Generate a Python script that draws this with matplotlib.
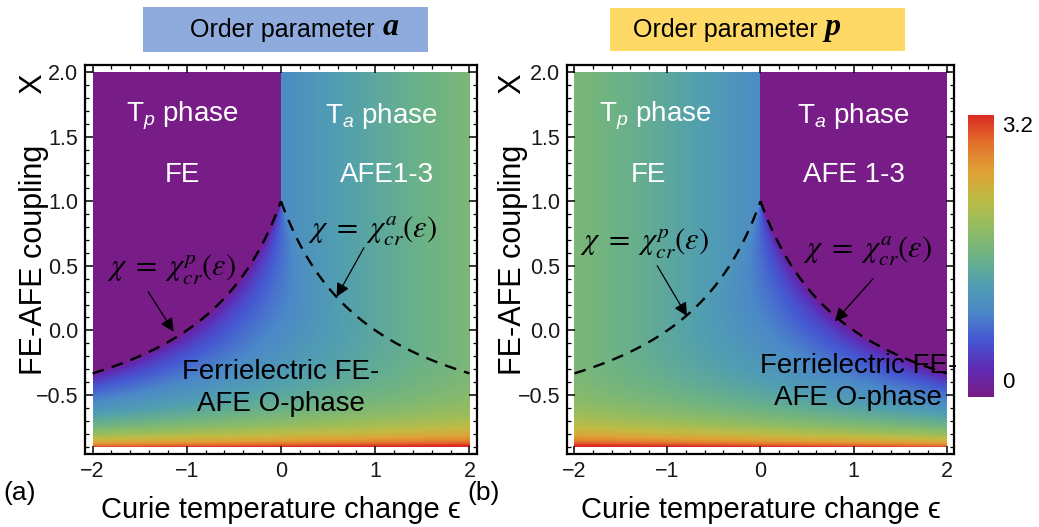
#!/usr/bin/env python3
"""Order parameters a and p of a FE-AFE Landau model vs Curie temperature change and coupling."""
import numpy as np
import matplotlib
matplotlib.use('Agg')
import matplotlib.pyplot as plt
from matplotlib.colors import LinearSegmentedColormap
from matplotlib.patches import Rectangle
from matplotlib.ticker import MultipleLocator

plt.rcParams['font.family'] = ['Liberation Sans', 'DejaVu Sans']
plt.rcParams['mathtext.fontset'] = 'custom'
plt.rcParams['mathtext.rm'] = 'Liberation Sans'
plt.rcParams['mathtext.it'] = 'Liberation Sans:italic'

# ranges of the map
eps_range = [-2.0, 2.0]
chi_range = [-0.9, 2.0]
cbar_range = [0.0, 3.2]
# Landau coefficients: A = 1 + eps (AFE), P = 1 - eps (FE)
coef_a = [1.0, 1.0]
coef_p = [1.0, -1.0]

x_ticks = [-2, -1, 0, 1, 2]
x_ticklabels = ['\u22122', '\u22121', '0', '1', '2']
y_ticks = [-0.5, 0.0, 0.5, 1.0, 1.5, 2.0]
y_ticklabels = ['\u22120.5', '0.0', '0.5', '1.0', '1.5', '2.0']

panel_titles = ['Order parameter', 'Order parameter']
panel_symbols = ['a', 'p']
panel_letters = ['(a)', '(b)']
box_colors = ['#8faadc', '#ffd966']

# Mathematica-like rainbow
rainbow = ['#781c87', '#5f2bb4', '#4557d2', '#4b89c8', '#519fb0', '#6db385',
           '#92bc62', '#bdbd45', '#e0a236', '#e3722d', '#db2b24']

cmap = LinearSegmentedColormap.from_list('rainbow', rainbow)

# ---- model: minimise F = -A a^2/2 - P p^2/2 + (a^4 + p^4)/4 + chi a^2 p^2 / 2
eps = np.linspace(eps_range[0], eps_range[1], 900)
chi = np.linspace(chi_range[0], chi_range[1], 700)
E, C = np.meshgrid(eps, chi)
A = coef_a[0] + coef_a[1] * E
P = coef_p[0] + coef_p[1] * E
den = np.where(C < 1, 1 - C ** 2, 1.0)
a2_mix = (A - C * P) / den
p2_mix = (P - C * A) / den
mixed = (C < 1) & (a2_mix > 0) & (p2_mix > 0)
a2 = np.where(mixed, a2_mix, np.where(E > 0, np.clip(A, 0, None), 0.0))
p2 = np.where(mixed, p2_mix, np.where(E <= 0, np.clip(P, 0, None), 0.0))
fields = [np.sqrt(a2), np.sqrt(p2)]

# phase boundaries chi_cr
e_left = np.linspace(eps_range[0], 0, 200)
e_right = np.linspace(0, eps_range[1], 200)
chi_p = (coef_a[0] + coef_a[1] * e_left) / (coef_p[0] + coef_p[1] * e_left)
chi_a = (coef_p[0] + coef_p[1] * e_right) / (coef_a[0] + coef_a[1] * e_right)

fig = plt.figure(figsize=(10.39, 5.27), dpi=100)
axes = [fig.add_axes([0.0818, 0.1385, 0.3773, 0.738]),
        fig.add_axes([0.5457, 0.1385, 0.3725, 0.738])]

labels = [
    [(r'T$_p$ phase', -1.05, 1.66), ('FE', -1.05, 1.2),
     (r'T$_a$ phase', 1.07, 1.66), ('AFE1-3', 1.12, 1.2)],
    [(r'T$_p$ phase', -1.13, 1.66), ('FE', -1.2, 1.2),
     (r'T$_a$ phase', 1.0, 1.66), ('AFE 1-3', 1.0, 1.2)],
]
chi_p_txt = r'$\chi\ =\ \chi_{cr}^{p}(\varepsilon)$'
chi_a_txt = r'$\chi\ =\ \chi_{cr}^{a}(\varepsilon)$'
chi_labels = [
    [(chi_p_txt, -1.16, 0.47, (-1.41, 0.30), (-1.14, -0.01)),
     (chi_a_txt, 0.97, 0.77, (0.88, 0.64), (0.59, 0.26))],
    [(chi_p_txt, -1.25, 0.67, (-1.11, 0.50), (-0.79, 0.11)),
     (chi_a_txt, 1.15, 0.61, (1.21, 0.40), (0.80, 0.07))],
]
ferri_pos = [(0.0, -0.45), (1.05, -0.40)]
ylabel_x = [-0.092, -0.10]

for i, ax in enumerate(axes):
    ax.imshow(fields[i], origin='lower', aspect='auto', cmap=cmap,
              extent=[eps_range[0], eps_range[1], chi_range[0], chi_range[1]],
              vmin=cbar_range[0], vmax=cbar_range[1], interpolation='nearest')
    ax.plot(e_left, chi_p, color='k', lw=1.7, dashes=(5, 3.5))
    ax.plot(e_right, chi_a, color='k', lw=1.7, dashes=(5, 3.5))
    ax.set_xlim(-2.08, 2.08)
    ax.set_ylim(-0.958, 2.055)
    ax.set_xticks(x_ticks)
    ax.set_xticklabels(x_ticklabels)
    ax.set_yticks(y_ticks)
    ax.set_yticklabels(y_ticklabels)
    ax.xaxis.set_minor_locator(MultipleLocator(0.2))
    ax.yaxis.set_minor_locator(MultipleLocator(0.1))
    ax.tick_params(which='both', direction='in', top=True, right=True,
                   labelsize=15.5, colors='k', labelcolor='#1a1a1a')
    ax.tick_params(which='major', length=6, width=1.1, pad=5)
    ax.tick_params(which='minor', length=3, width=0.9)
    for s in ax.spines.values():
        s.set_linewidth(1.6)
    ax.set_xlabel('Curie temperature change \u03f5', fontsize=21, labelpad=10)
    ax.set_ylabel('FE-AFE coupling      X', fontsize=22)
    ax.yaxis.set_label_coords(ylabel_x[i], 0.59)

    for txt, x, y in labels[i]:
        ax.text(x, y, txt, color='white', fontsize=20, ha='center', va='center')
    for txt, x, y, start, end in chi_labels[i]:
        ax.text(x, y, txt, fontsize=22, ha='center', va='center', math_fontfamily='stix')
        ax.annotate('', xy=end, xytext=start,
                    arrowprops=dict(arrowstyle='-|>', color='k', lw=0.9,
                                    mutation_scale=20, shrinkA=0, shrinkB=0))
    fx, fy = ferri_pos[i]
    ax.text(fx, fy, 'Ferrielectric FE-\nAFE O-phase', fontsize=20, ha='center',
            va='center', linespacing=1.3)

    fig.text(0.003 + 0.4467 * i, 0.0645, panel_letters[i], fontsize=19, va='center')

# title boxes
boxes = [(0.1376, 0.9013, 0.2743, 0.0854), (0.587, 0.903, 0.284, 0.0816)]
text_x = [0.1829, 0.609]
for i, (bx, by, bw, bh) in enumerate(boxes):
    fig.patches.append(Rectangle((bx, by), bw, bh, transform=fig.transFigure,
                                 facecolor=box_colors[i], edgecolor='none'))
    t = fig.text(text_x[i], 0.943, panel_titles[i], fontsize=18, ha='left', va='center')
    fig.add_artist(plt.Annotation(' ' + panel_symbols[i], xy=(1, 0), xycoords=t,
                                  xytext=(0, 0), textcoords='offset points',
                                  fontsize=23, family='Liberation Serif',
                                  style='italic', weight='bold', ha='left', va='bottom'))

# colour bar
cax = fig.add_axes([0.9317, 0.2467, 0.025, 0.535])
grad = np.linspace(cbar_range[0], cbar_range[1], 256).reshape(-1, 1)
cax.imshow(grad, origin='lower', aspect='auto', cmap=cmap,
           extent=[0, 1, cbar_range[0], cbar_range[1]])
cax.set_xticks([])
cax.set_yticks([])
for s in cax.spines.values():
    s.set_visible(False)
cax.text(1.3, 0.96, '3.2', transform=cax.transAxes, fontsize=16, va='center')
cax.text(1.3, 0.05, '0', transform=cax.transAxes, fontsize=16, va='center')

fig.savefig('out.png', dpi=100)
print('Wrote out.png')
